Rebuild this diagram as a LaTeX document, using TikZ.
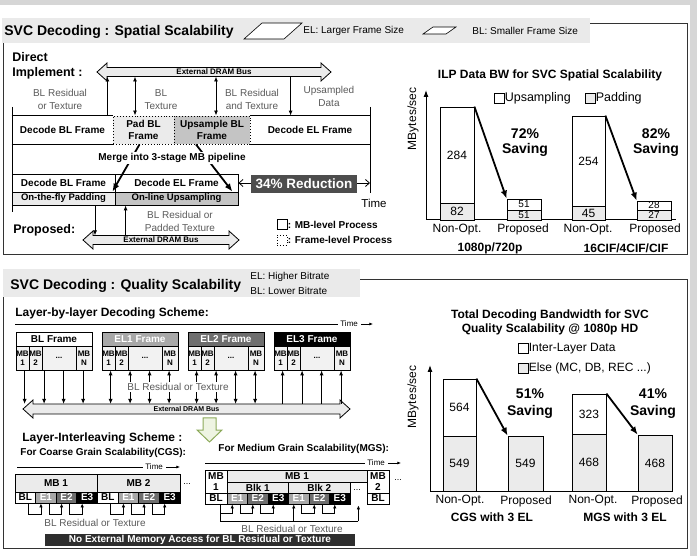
\documentclass[tikz,border=0pt]{standalone}
\usepackage{fontspec}
\setmainfont{Liberation Sans}
\usetikzlibrary{arrows.meta,calc}
\definecolor{hdrbg}{HTML}{EAEAEA}
\definecolor{lgray}{HTML}{EBEBEB}
\definecolor{mgray}{HTML}{C4C4C4}
\definecolor{mbfill}{HTML}{F2F2F2}
\definecolor{txtgray}{HTML}{5A5A5A}
\definecolor{eone}{HTML}{A8A8A8}
\definecolor{etwo}{HTML}{6E6E6E}
\definecolor{redbox}{HTML}{4D4D4D}
\definecolor{barbg}{HTML}{2E2E2E}
\definecolor{grnline}{HTML}{8CAA5A}
\definecolor{grnfill}{HTML}{EEF4E2}
\definecolor{framec}{HTML}{333333}
\definecolor{edgec}{HTML}{D6D6D6}
\newcommand\fsz[1]{\fontsize{#1}{#1}\selectfont}
\newcommand\boxat[6][]{\node[#1,minimum width={(#4)-(#2)},minimum height={(#5)-(#3)}] (#6) at ({((#2)+(#4))/2},{((#3)+(#5))/2})}
\newcommand\drambus[6]{%
 \draw[busstyle] (#2,#4) -- ({#2+10},{#4-#6}) -- ({#2+10},{#4-#5}) -- ({#3-10},{#4-#5}) -- ({#3-10},{#4-#6}) -- (#3,#4) -- ({#3-10},{#4+#6}) -- ({#3-10},{#4+#5}) -- ({#2+10},{#4+#5}) -- ({#2+10},{#4+#6}) -- cycle;
 \coordinate (#1-t) at ({(#2+#3)/2},{#4-#5});
 \coordinate (#1-b) at ({(#2+#3)/2},{#4+#5});
 \coordinate (#1-c) at ({(#2+#3)/2},#4);}
\tikzset{
 panel/.style={draw=framec, line width=1pt},
 cellw/.style={inner sep=0pt, align=center, font=\fontsize{10}{12}\selectfont\bfseries},
 celldot/.style={cellw, draw, dotted, line width=0.9pt},
 cell/.style={draw, line width=0.8pt, inner sep=0pt, align=center, font=\fontsize{10}{12}\selectfont\bfseries},
 mbcell/.style={cell, fill=mbfill, font=\fontsize{8}{9.5}\selectfont\bfseries},
 cellsm/.style={cell, font=\fontsize{10}{10.5}\selectfont\bfseries},
 cellg/.style={cellsm, fill=lgray},
 gl/.style={text=txtgray, align=center, font=\fontsize{10}{13}\selectfont, inner sep=0pt},
 buslabel/.style={font=\fontsize{8}{8}\selectfont\bfseries, inner sep=0pt},
 busstyle/.style={draw, fill=lgray, line width=0.8pt},
 arr/.style={line width=0.9pt, -{Latex[length=5pt,width=4pt]}},
 arrd/.style={line width=0.9pt, {Latex[length=5pt,width=4pt]}-{Latex[length=5pt,width=4pt]}},
 arrs/.style={line width=0.8pt, -{Latex[length=4pt,width=3.5pt]}},
 bigarr/.style={line width=1.8pt, -{Latex[length=8pt,width=6.5pt]}},
 bar/.style={draw, line width=0.8pt, inner sep=0pt, font=\fontsize{12}{12}\selectfont},
 tarr/.style={line width=0.8pt, -{Latex[length=4pt,width=3pt]}},
}
\begin{document}
\begin{tikzpicture}[x=1pt,y=-1pt,line width=0.8pt, every node/.style={inner sep=0pt}]
\useasboundingbox (0,0) rectangle (697,556);
\fill[edgec] (0,0) rectangle (697,5);
\fill[edgec] (690,0) rectangle (697,556);

%================ TOP PANEL =================
\draw[panel] (3,24) rectangle (687,255);
\fill[hdrbg] (2,18) rectangle (590,43);
\node[anchor=base west, font=\fsz{14}\bfseries] (h1) at (4,36) {SVC Decoding : Spatial Scalability};
\draw[fill=white, line width=0.6pt] (244,39) -- (262,23) -- (302,23) -- (284,39) -- cycle;
\node[anchor=west, font=\fsz{10}] (l1) at (303,31) {EL: Larger Frame Size};
\draw[fill=white, line width=0.6pt] (423,34) -- (433,27) -- (456,27) -- (446,34) -- cycle;
\node[anchor=west, font=\fsz{10}] (l2) at (472,31) {BL: Smaller Frame Size};

\node[anchor=north west, align=left, font=\fontsize{12.5}{15.5}\selectfont\bfseries] (direct) at (12,52) {Direct\\Implement :};

\drambus{tb}{97}{331}{72}{4.5}{9}
\node[buslabel] (tbl) at (tb-c) {External DRAM Bus};

\node[gl] (lab1) at (60,99.5) {BL Residual\\or Texture};
\node[gl] (lab2) at (161,99.5) {BL\\Texture};
\node[gl] (lab3) at (252,99.5) {BL Residual\\and Texture};
\node[gl] (lab4) at (329,96) {Upsampled\\Data};

% row 1
\boxat[cellw]{12}{116}{113}{144}{dbl} {Decode BL Frame};
\boxat[cellw]{250}{116}{370}{144}{del} {Decode EL Frame};
\draw (dbl.north west) -- (dbl.north east);
\draw (dbl.south west) -- (dbl.south east);
\draw (del.north west) -- (del.north east);
\draw (del.south west) -- (del.south east);
\boxat[celldot,fill=lgray]{113}{116}{174}{144}{pad} {Pad BL\\Frame};
\boxat[celldot,fill=mgray]{174}{116}{250}{144}{ups} {Upsample BL\\Frame};
\coordinate (tl1) at (12,107); \coordinate (tl2) at (12,212);
\coordinate (tr1) at (370,107); \coordinate (tr2) at (370,193);
\draw (tl1) -- (tl2);
\draw (tr1) -- (tr2);

% arrows to top bus
\coordinate (a1) at ($(dbl.north east)+(-6,0)$);
\coordinate (a2) at ($(pad.north)+(-8.5,0)$);
\coordinate (a3) at ($(ups.north)+(4,0)$);
\coordinate (a4) at ($(del.north west)+(41,0)$);
\draw[arr] (a1) -- (a1 |- tb-b);
\draw[arrd] (a2) -- (a2 |- tb-b);
\draw[arrd] (a3) -- (a3 |- tb-b);
\draw[arr] (a4 |- tb-b) -- (a4);

% row 2 (proposed)
\boxat[cell]{12}{174}{115}{192}{pdbl} {Decode BL Frame};
\boxat[cell]{115}{174}{238}{192}{pdel} {Decode EL Frame};
\boxat[cell,fill=lgray,font=\fsz{9.5}\bfseries]{12}{192}{115}{205}{ppad} {On-the-fly Padding};
\boxat[cell,fill=mgray,font=\fsz{9.5}\bfseries]{115}{192}{238}{205}{pups} {On-line Upsampling};

\draw[bigarr] ($(pad.south)+(-4,0)$) -- ($(ppad.north east)+(-3,0)$);
\draw[bigarr] ($(ups.south)+(-16,0)$) -- ($(pups.north east)+(-6,0)$);
\node[fill=white, inner sep=1.5pt, font=\fsz{10}\bfseries] (merge) at (172,158) {Merge into 3-stage MB pipeline};

\coordinate (rt) at (370,183);
\draw[line width=0.8pt, {Straight Barb[length=4pt,width=7pt]}-{Straight Barb[length=4pt,width=7pt]}] (pdel.east) -- (rt);
\node[fill=redbox, text=white, font=\fsz{13.5}\bfseries, minimum width=106, minimum height=18] (red) at (304,184) {34\% Reduction};
\node[font=\fsz{11.5}] (time1) at (374,203) {Time};

% proposed bus
\drambus{pb}{83}{239}{240}{4.5}{9}
\node[buslabel] (pbl) at (pb-c) {External DRAM Bus};
\coordinate (b1) at ($(ppad.south)+(31.5,0)$);
\coordinate (b2) at ($(pups.south west)+(11,0)$);
\draw[arr] (b1) -- (b1 |- pb-t);
\draw[arr] (b2 |- pb-t) -- (b2);
\node[gl] (lab5) at (180,221) {BL Residual or\\Padded Texture};
\node[anchor=west, font=\fsz{12.5}\bfseries] (prop) at (13,230) {Proposed:};

\node[draw, minimum size=10, line width=0.8pt] (lg1) at (282,224.5) {};
\node[anchor=west, font=\fsz{10}\bfseries] (lg1t) at (lg1.east) {: MB-level Process};
\node[draw, dotted, minimum size=10, line width=0.9pt] (lg2) at (282,240) {};
\node[anchor=west, font=\fsz{10}\bfseries] (lg2t) at (lg2.east) {: Frame-level Process};

% top chart
\node[font=\fsz{12}\bfseries] (ct1) at (550,75) {ILP Data BW for SVC Spatial Scalability};
\coordinate (o1) at (426,220); \coordinate (ya1) at (426,90); \coordinate (xa1) at (676,220);
\draw[line width=1pt, -{Latex[length=7pt,width=5pt]}] (o1) -- (ya1);
\draw[line width=1pt] (o1) -- (xa1);
\node[rotate=90, font=\fsz{12}] (yl1) at (413,119) {MBytes/sec};
\node[draw, minimum size=10] (lgu) at (499,98) {};
\node[anchor=west, font=\fsz{12.5}] (lgut) at (lgu.east) {Upsampling};
\node[draw, fill=lgray, minimum size=10] (lgp) at (590,98) {};
\node[anchor=west, font=\fsz{12.5}] (lgpt) at (lgp.east) {Padding};

\boxat[bar]{440}{107}{474}{203}{b1u} {284};
\boxat[bar,fill=lgray]{440}{203}{474}{220}{b1p} {82};
\boxat[bar,font=\fsz{10}]{507}{199}{541}{210}{b2u} {51};
\boxat[bar,fill=lgray,font=\fsz{10}]{507}{210}{541}{220}{b2p} {51};
\boxat[bar]{572}{116}{605}{206}{b3u} {254};
\boxat[bar,fill=lgray]{572}{206}{605}{220}{b3p} {45};
\boxat[bar,font=\fsz{10}]{637}{201}{671}{210}{b4u} {28};
\boxat[bar,fill=lgray,font=\fsz{10}]{637}{210}{671}{220}{b4p} {27};
\draw[bigarr] (b1u.north east) -- (b2u.north west);
\draw[bigarr] (b3u.north east) -- (b4u.north west);
\node[align=center, font=\fontsize{14}{15}\selectfont\bfseries] (s1) at (525,142.5) {72\%\\Saving};
\node[align=center, font=\fontsize{14}{15}\selectfont\bfseries] (s2) at (656,142.5) {82\%\\Saving};
\node[font=\fsz{12}] (x1) at (457,230) {Non-Opt.};
\node[font=\fsz{12}] (x2) at (523,229) {Proposed};
\node[font=\fsz{12}] (x3) at (588,230) {Non-Opt.};
\node[font=\fsz{12}] (x4) at (655,229) {Proposed};
\node[font=\fsz{12}\bfseries] (g1) at (490,248) {1080p/720p};
\node[font=\fsz{12}\bfseries] (g2) at (626,248) {16CIF/4CIF/CIF};

%================ BOTTOM PANEL =================
\draw[panel] (3,280) rectangle (687,548);
\fill[hdrbg] (3,269) rectangle (360,297);
\node[anchor=base west, font=\fsz{14}\bfseries] (h2) at (10,290) {SVC Decoding : Quality Scalability};
\node[anchor=west, font=\fsz{10}] (l3) at (250,277) {EL: Higher Bitrate};
\node[anchor=west, font=\fsz{10}] (l4) at (250,290.5) {BL: Lower Bitrate};

\node[anchor=base west, font=\fsz{12}\bfseries] (lbl) at (15,317) {Layer-by-layer Decoding Scheme:};
\coordinate (t1s) at (15,324);
\node[anchor=west, font=\fsz{8}] (t1) at (340,324) {Time};
\draw (t1s) -- ($(t1.west)+(-2,0)$);
\draw[tarr] ($(t1.east)+(3,0)$) -- ++(12,0);

\foreach \s/\nm/\lab/\fc/\tc in {16/bl/BL Frame/white/black, 102/ea/EL1 Frame/eone/white, 188/eb/EL2 Frame/etwo/white, 274/ec/EL3 Frame/black/white} {
 \boxat[cell,fill=\fc,text=\tc]{\s}{332}{\s+76}{346}{\nm-h} {\lab};
 \boxat[mbcell]{\s}{346}{\s+13}{370}{\nm-1} {MB\\1};
 \boxat[mbcell]{\s+13}{346}{\s+26}{370}{\nm-2} {MB\\2};
 \boxat[mbcell]{\s+26}{346}{\s+60}{370}{\nm-3} {...};
 \boxat[mbcell]{\s+60}{346}{\s+76}{370}{\nm-4} {MB\\N};
}
\drambus{lb}{23}{350}{409}{5}{9}
\node[buslabel, font=\fsz{7}\bfseries] (lbl2) at (lb-c) {External DRAM Bus};
\foreach \k in {0,1,2,3} {
 \coordinate (bl-a\k) at ($(bl-1.south west)+({9+19.5*\k},0)$);
 \draw[arr] (bl-a\k) -- (bl-a\k |- lb-t);
 \coordinate (ea-a\k) at ($(ea-1.south west)+({9+19.5*\k},0)$);
 \draw[arrd] (ea-a\k) -- (ea-a\k |- lb-t);
 \coordinate (eb-a\k) at ($(eb-1.south west)+({9+19.5*\k},0)$);
 \draw[arrd] (eb-a\k) -- (eb-a\k |- lb-t);
 \coordinate (ec-a\k) at ($(ec-1.south west)+({9+19.5*\k},0)$);
 \draw[arr] (ec-a\k |- lb-t) -- (ec-a\k);
}
\node[gl, fill=white, inner sep=1pt] (lab6) at (178,387) {BL Residual or Texture};

% green arrow
\draw[grnline, fill=grnfill, line width=1pt] (203,418) -- (216,418) -- (216,430) -- (222,430) -- (209.5,442) -- (197,430) -- (203,430) -- cycle;

\node[anchor=base west, font=\fsz{12}\bfseries] (lis) at (22,442) {Layer-Interleaving Scheme :};
\node[anchor=base west, font=\fsz{10}\bfseries] (cgs) at (20,455.5) {For Coarse Grain Scalability(CGS):};
\node[anchor=base west, font=\fsz{10}\bfseries] (mgs) at (218,451.5) {For Medium Grain Scalability(MGS):};

% CGS
\coordinate (t2s) at (17,467);
\node[anchor=west, font=\fsz{8}] (t2) at (145,467) {Time};
\draw (t2s) -- ($(t2.west)+(-2,0)$);
\draw[tarr] ($(t2.east)+(3,0)$) -- ++(14,0);
\boxat[cellg]{15}{474}{97}{492}{cm1} {MB 1};
\boxat[cellg]{97}{474}{180}{492}{cm2} {MB 2};
\node[font=\fsz{9}] (cdots) at (187,484) {...};
\foreach \lab/\fc/\tc [count=\i from 0] in {BL/white/black, E1/eone/white, E2/etwo/white, E3/black/white, BL/white/black, E1/eone/white, E2/etwo/white, E3/black/white} {
 \boxat[cellsm,fill=\fc,text=\tc]{15+20.625*\i}{492}{15+20.625*(\i+1)}{503}{cc\i} {\lab};
}
\foreach \a/\b in {0/1,1/2,2/3,4/5,5/6,6/7} {
 \draw[arrs] ($(cc\a.south)+(3,0)$) -- ++(0,11) -| ($(cc\b.south)+(-5,0)$);
}
\node[gl] (lab7) at (95,523) {BL Residual or Texture};

% MGS
\coordinate (t3s) at (205,463);
\node[anchor=west, font=\fsz{8}] (t3) at (367,463) {Time};
\draw (t3s) -- ($(t3.west)+(-2,0)$);
\draw[tarr] ($(t3.east)+(3,0)$) -- ++(13,0);
\boxat[cellsm,fill=white]{205}{470}{227}{493}{mm1} {MB\\1};
\boxat[cellsm,fill=white]{205}{493}{227}{504}{mbl} {BL};
\boxat[cellg]{227}{470}{367}{482}{mmh} {MB 1};
\boxat[cellg]{227}{482}{288.5}{493}{blk1} {Blk 1};
\boxat[cellg]{288.5}{482}{350}{493}{blk2} {Blk 2};
\foreach \lab/\fc/\tc [count=\i from 0] in {E1/eone/white, E2/etwo/white, E3/black/white, E1/eone/white, E2/etwo/white, E3/black/white} {
 \boxat[cellsm,fill=\fc,text=\tc]{227+20.5*\i}{493}{227+20.5*(\i+1)}{504}{mc\i} {\lab};
}
\node[font=\fsz{9}] (mdots1) at (357,490) {...};
\boxat[cellsm,fill=white]{367}{470}{389}{493}{mm2} {MB\\2};
\boxat[cellsm,fill=white]{367}{493}{389}{504}{mbl2} {BL};
\node[font=\fsz{9}] (mdots2) at (398,480) {...};

\coordinate (ms) at ($(mbl.south)+(4,0)$);
\draw[arrs] (ms) -- ++(0,9) -| ($(mc0.south)+(-5,0)$);
\coordinate (mlong) at ($(ms)+(0,17)$);
\coordinate (mend) at ($(mc5.south east)+(8,1)$);
\coordinate (m3) at ($(mc3.south)+(-5,0)$);
\draw (ms) -- (mlong) -- (mlong -| mend);
\draw[arrs] (mlong -| mend) -- (mend);
\draw[arrs] (mlong -| m3) -- (m3);
\foreach \a/\b in {0/1,1/2,3/4,4/5} {
 \draw[arrs] ($(mc\a.south)+(3,0)$) -- ++(0,9) -| ($(mc\b.south)+(-5,0)$);
}
\node[gl] (lab8) at (292,529) {BL Residual or Texture};
\node[fill=barbg, text=white, font=\fsz{10}\bfseries, minimum width=310, minimum height=12] (nomem) at (200,540) {No External Memory Access for BL Residual or Texture};

% bottom chart
\node[align=center, font=\fontsize{12}{14}\selectfont\bfseries] (ct2) at (550,322) {Total Decoding Bandwidth for SVC\\Quality Scalability @ 1080p HD};
\node[draw, minimum size=10] (lgi) at (523,348.5) {};
\node[anchor=west, font=\fsz{12}] (lgit) at (lgi.east) {Inter-Layer Data};
\node[draw, fill=lgray, minimum size=10] (lge) at (523,368.5) {};
\node[anchor=west, font=\fsz{12}] (lget) at (lge.east) {Else (MC, DB, REC ...)};
\coordinate (o2) at (430,491); \coordinate (ya2) at (430,365); \coordinate (xa2) at (673,491);
\draw[line width=1pt, -{Latex[length=7pt,width=5pt]}] (o2) -- (ya2);
\draw[line width=1pt] (o2) -- (xa2);
\node[rotate=90, font=\fsz{12}] (yl2) at (413,397) {MBytes/sec};
\boxat[bar]{443}{379}{476}{436}{c1u} {564};
\boxat[bar,fill=lgray]{443}{436}{476}{491}{c1e} {549};
\boxat[bar,fill=lgray]{508}{436}{543}{491}{c2e} {549};
\boxat[bar]{572}{394}{606}{434}{c3u} {323};
\boxat[bar,fill=lgray]{572}{434}{606}{491}{c3e} {468};
\boxat[bar,fill=lgray]{638}{435}{672}{491}{c4e} {468};
\draw[bigarr] (c1u.north east) -- (c2e.north west);
\draw[bigarr] (c3u.north east) -- (c4e.north west);
\node[align=center, font=\fontsize{14}{17}\selectfont\bfseries] (s3) at (530,403.5) {51\%\\Saving};
\node[align=center, font=\fontsize{14}{17}\selectfont\bfseries] (s4) at (653,403.5) {41\%\\Saving};
\node[font=\fsz{12}] (x5) at (460,501) {Non-Opt.};
\node[font=\fsz{12}] (x6) at (526,501) {Proposed};
\node[font=\fsz{12}] (x7) at (593,501) {Non-Opt.};
\node[font=\fsz{12}] (x8) at (657,501) {Proposed};
\node[font=\fsz{12}\bfseries] (g3) at (492,517) {CGS with 3 EL};
\node[font=\fsz{12}\bfseries] (g4) at (625,517) {MGS with 3 EL};
\end{tikzpicture}
\end{document}
